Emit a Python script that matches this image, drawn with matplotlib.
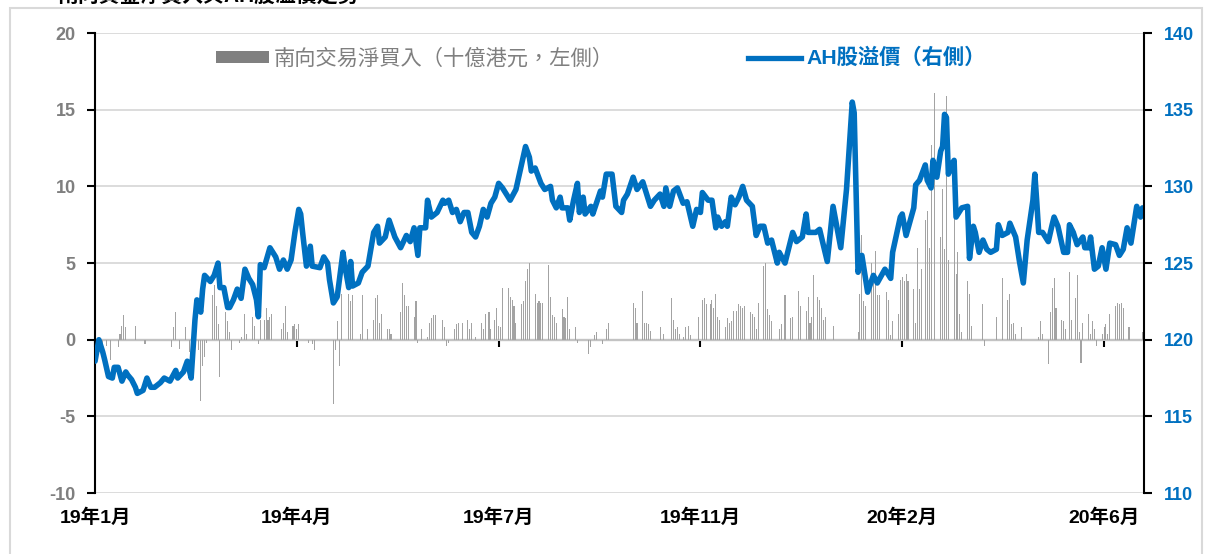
import matplotlib.pyplot as plt
from matplotlib.patches import Patch, Rectangle
from matplotlib.lines import Line2D

# x positions are calendar days counted from 2019-01-01
tick_days = [0, 105, 210, 315, 420, 525]
tick_labels = ['19年1月', '19年4月', '19年7月', '19年11月', '20年2月', '20年6月']

# southbound net buying (HK$ bn, left axis): (day, value)
flow_points = [
    (4, -0.3), (6, -0.4), (8, -1.3), (12, -0.5), (13, 0.4), (14, 0.9), (15, 1.6), (16, 0.8),
    (21, 0.9), (26, -0.3), (40, -0.5), (41, 0.8), (42, 1.8), (44, -0.6), (47, 0.8), (49, -0.8),
    (50, -0.6), (54, -0.7), (55, -4.0), (56, -1.7), (57, -1.1), (58, -0.2), (61, 2.9), (62, 3.6),
    (63, 2.2), (64, 1.0), (65, -2.4), (68, 1.8), (69, 1.2), (70, 0.5), (71, -0.7), (75, -0.2),
    (76, 0.2), (78, 1.7), (79, 0.4), (82, 1.5), (83, 0.9), (85, -0.3), (86, 1.3), (88, 1.3),
    (89, 2.1), (90, 1.3), (91, 1.5), (92, 1.7), (97, 0.7), (98, 1.1), (99, 2.2), (100, 0.5),
    (103, 0.9), (104, 1.0), (105, 0.7), (106, 1.0), (111, -0.2), (113, -0.3), (114, -0.7),
    (124, -4.2), (125, -0.7), (126, 1.2), (127, -1.7), (128, 3.0), (132, 3.0), (133, 2.5),
    (134, 2.9), (138, 0.4), (139, 2.9), (142, 0.7), (145, 1.3), (146, 2.7), (147, 2.9), (148, 1.1),
    (149, 1.7), (152, 0.7), (153, 0.7), (154, 0.4), (159, 1.8), (160, 3.7), (161, 2.9), (162, 2.2),
    (163, 2.2), (166, 1.5), (167, 2.5), (168, -0.2), (170, 0.7), (173, 0.2), (174, 1.1), (175, 1.4),
    (176, 1.6), (177, 1.6), (181, 1.3), (182, 0.8), (183, -0.4), (184, -0.2), (187, 0.7), (188, 1.0),
    (189, 1.1), (191, 1.1), (194, 1.3), (195, 0.7), (196, 1.1), (198, 0.2), (201, 1.1), (202, 0.7),
    (203, 1.7), (205, 1.8), (206, 0.7), (208, 1.3), (209, 2.1), (210, 0.9), (211, 0.8), (212, 3.4),
    (215, 3.4), (216, 2.8), (217, 2.6), (218, 2.2), (219, 1.1), (222, 2.3), (223, 2.5), (224, 3.8),
    (225, 4.6), (226, 5.0), (229, 3.0), (230, 2.4), (231, 2.5), (232, 2.4), (233, 2.4), (236, 4.9),
    (237, 2.8), (238, 1.6), (239, 1.5), (240, 1.1), (243, 2.0), (244, 1.5), (245, 1.4), (246, 2.8),
    (247, 0.7), (250, 0.8), (251, -0.2), (257, -0.9), (258, -0.5), (260, 0.3), (261, 0.5),
    (264, -0.3), (266, 0.7), (267, 1.1), (280, 2.4), (281, 2.1), (282, 1.1), (285, 3.2), (286, 1.1),
    (287, 1.1), (288, 1.0), (289, 0.6), (294, 0.8), (296, 0.4), (300, 2.7), (301, 1.3), (302, 0.7),
    (303, 0.8), (304, 0.4), (306, 0.2), (307, 0.8), (309, 0.9), (310, 0.3), (314, 1.5), (316, 2.6),
    (317, 2.7), (318, 2.3), (320, 2.3), (321, 2.6), (322, 2.1), (323, 3.0), (324, 1.5), (325, 1.3),
    (328, 0.8), (329, 1.4), (330, 1.1), (331, 1.2), (332, 1.9), (334, 1.9), (335, 2.3), (336, 2.2),
    (337, 2.1), (338, 2.2), (341, 1.8), (342, 1.7), (343, 1.5), (344, 0.7), (345, 2.4), (348, 4.8),
    (349, 5.0), (350, 2.0), (351, 1.6), (352, 1.2), (356, 0.7), (357, 1.0), (359, 2.9), (362, 1.4),
    (363, 1.5), (366, 3.2), (367, 2.2), (370, 1.9), (371, 2.8), (372, 1.1), (373, 1.5), (374, 4.2),
    (376, 2.8), (377, 2.6), (378, 2.1), (379, 1.3), (380, 1.5), (384, 0.9), (397, 0.5), (398, 3.0),
    (399, 6.8), (400, 2.5), (401, 2.2), (404, 5.0), (405, 3.7), (406, 5.8), (407, 2.9), (408, 2.9),
    (412, 3.1), (413, 2.6), (414, 0.3), (415, 1.2), (418, 1.7), (419, 3.9), (420, 4.1), (421, 3.8),
    (422, 4.3), (423, 3.8), (426, 3.3), (427, 1.1), (428, 6.0), (429, 3.3), (430, 4.6), (432, 7.8),
    (433, 8.4), (434, 6.0), (435, 12.7), (437, 16.1), (440, 6.7), (441, 9.8), (442, 5.9), (443, 15.9),
    (444, 5.2), (447, 10.0), (448, 4.3), (449, 5.7), (450, 1.7), (451, 0.5), (454, 3.8), (455, 3.0),
    (456, 0.9), (462, 2.3), (463, -0.4), (469, 1.5), (472, 4.0), (475, 2.6), (476, 3.0), (477, 1.0),
    (478, 1.1), (479, 0.4), (482, 0.8), (491, 0.2), (492, 1.2), (493, 0.4), (496, -1.6), (497, 1.8),
    (498, 3.4), (499, 4.0), (500, 2.1), (503, 1.3), (504, 1.2), (505, 0.7), (507, 4.4), (508, 1.3),
    (510, 2.7), (511, 4.2), (512, 0.5), (513, -1.5), (514, 1.1), (517, 1.7), (518, 0.4), (519, 1.2),
    (520, 0.7), (521, -0.4), (524, 0.4), (525, 0.8), (526, 1.0), (527, 0.4), (528, 1.7), (531, 2.2),
    (532, 2.4), (533, 2.3), (534, 2.4), (535, 2.1), (538, 0.8), (545, 0.5),
]

# AH premium index (right axis): (day, value)
ah_points = [
    (0, 118.6), (2, 120.0), (4, 119.2), (5, 118.7), (7, 117.6), (9, 117.5), (10, 118.2), (12, 118.2),
    (14, 117.3), (16, 117.9), (17, 117.7), (19, 117.4), (21, 116.9), (22, 116.5), (25, 116.7),
    (27, 117.5), (29, 116.9), (31, 116.9), (34, 117.2), (36, 117.5), (39, 117.3), (42, 118.0),
    (43, 117.5), (46, 117.9), (48, 118.6), (50, 117.5), (52, 121.3), (53, 122.6), (55, 121.8),
    (56, 123.3), (57, 124.2), (60, 123.8), (62, 124.2), (64, 125.0), (65, 123.4), (67, 123.4),
    (69, 122.1), (70, 122.1), (72, 122.6), (74, 123.3), (76, 122.7), (78, 124.6), (80, 124.0),
    (82, 123.6), (84, 122.6), (85, 121.5), (86, 124.9), (88, 124.7), (91, 126.0), (94, 125.4),
    (96, 124.6), (98, 125.2), (100, 124.6), (102, 125.2), (104, 127.0), (106, 128.5), (107, 128.2),
    (108, 127.0), (110, 124.8), (112, 126.1), (113, 124.8), (117, 124.7), (119, 125.4), (121, 125.0),
    (122, 123.9), (124, 122.4), (126, 122.8), (129, 125.7), (130, 124.8), (132, 123.4), (133, 125.1),
    (134, 123.5), (137, 123.7), (139, 124.4), (142, 124.8), (145, 127.0), (147, 127.4), (148, 126.3),
    (151, 126.7), (153, 127.8), (156, 126.7), (159, 126.0), (162, 126.8), (164, 126.4), (166, 127.3),
    (168, 125.5), (169, 127.3), (172, 127.3), (173, 129.1), (175, 128.0), (178, 128.3), (181, 129.1),
    (182, 128.9), (184, 129.1), (186, 128.3), (188, 128.5), (190, 127.7), (192, 128.3), (194, 128.3),
    (196, 127.0), (198, 126.7), (200, 127.4), (202, 128.5), (204, 128.0), (206, 128.9), (208, 129.3),
    (210, 130.2), (212, 129.9), (216, 129.1), (219, 129.8), (222, 131.5), (224, 132.6), (226, 131.9),
    (227, 131.0), (229, 131.2), (232, 130.2), (234, 129.8), (237, 130.0), (238, 129.1), (240, 128.6),
    (242, 129.3), (243, 128.6), (246, 128.6), (247, 127.8), (249, 129.1), (251, 130.2), (252, 128.3),
    (254, 129.3), (255, 128.2), (258, 128.7), (259, 128.2), (263, 129.7), (264, 129.3), (266, 130.8),
    (269, 130.8), (271, 128.7), (274, 128.3), (275, 129.1), (277, 129.5), (280, 130.6), (282, 129.8),
    (285, 130.3), (289, 128.7), (291, 129.1), (294, 129.5), (296, 128.7), (297, 129.9), (299, 128.7),
    (301, 129.7), (303, 129.9), (306, 128.9), (308, 129.0), (311, 127.4), (313, 128.5), (315, 128.3),
    (316, 129.6), (319, 129.1), (321, 129.1), (323, 127.3), (324, 128.0), (326, 127.4), (328, 127.7),
    (329, 127.4), (331, 129.3), (333, 128.8), (335, 129.3), (337, 130.0), (339, 129.1), (342, 128.7),
    (344, 126.8), (346, 127.4), (348, 127.4), (350, 126.3), (352, 126.5), (355, 125.0), (356, 125.7),
    (359, 125.0), (363, 127.0), (365, 126.4), (368, 126.7), (370, 128.2), (371, 127.0), (375, 127.0),
    (377, 127.2), (381, 125.1), (384, 128.7), (388, 126.0), (391, 129.8), (394, 135.5), (395, 134.8),
    (397, 124.4), (399, 125.5), (402, 123.1), (405, 124.2), (407, 123.7), (411, 124.6), (414, 124.0),
    (415, 125.7), (419, 128.0), (420, 128.2), (422, 126.8), (426, 128.6), (427, 130.1), (429, 130.4),
    (432, 131.4), (433, 130.4), (435, 129.9), (436, 131.7), (438, 130.6), (440, 132.3), (441, 132.6),
    (442, 134.7), (443, 134.5), (444, 130.8), (446, 131.5), (447, 131.7), (448, 128.0), (451, 128.6),
    (454, 128.7), (455, 125.3), (457, 127.4), (458, 127.0), (460, 125.7), (462, 126.5), (464, 125.9),
    (466, 125.7), (469, 125.9), (470, 127.5), (472, 126.8), (475, 127.0), (476, 127.6), (479, 126.7),
    (481, 125.1), (483, 123.7), (485, 126.5), (488, 129.1), (489, 130.8), (490, 129.0), (491, 127.0),
    (493, 127.0), (496, 126.4), (498, 127.5), (499, 128.0), (501, 127.4), (504, 125.7), (506, 125.7),
    (507, 127.5), (509, 127.0), (511, 126.2), (514, 126.7), (515, 126.0), (517, 126.0), (518, 126.7),
    (520, 124.6), (522, 124.8), (524, 126.0), (526, 124.6), (528, 126.3), (531, 126.2), (533, 125.5),
    (535, 125.9), (537, 127.3), (539, 126.3), (542, 128.7), (544, 128.0), (545, 128.6),
]

legend_labels = ['南向交易淨買入（十億港元，左側）', 'AH股溢價（右側）']
title_text = '南向資金淨買入與AH股溢價走勢'

BLUE = '#0070c0'
GRAY_TXT = '#7f7f7f'

plt.rcParams['font.family'] = ['Liberation Sans', 'Noto Sans CJK TC']
plt.rcParams['axes.unicode_minus'] = False

flow_day, flow_val = zip(*flow_points)
ah_day, ah_val = zip(*ah_points)

fig = plt.figure(figsize=(12.06, 5.54), dpi=100)
ax = fig.add_axes([0.0788, 0.110, 0.8698, 0.8303])

# bars on the left axis
ax.bar(flow_day, flow_val, width=0.55, color='#a3a3a3', linewidth=0, zorder=2)
ax.set_xlim(0, 545.8)
ax.set_ylim(-10, 20)
ax.set_yticks(range(-10, 21, 5))
ax.grid(axis='y', color='#d9d9d9', linewidth=1.3)
ax.set_axisbelow(True)
ax.set_xticks(tick_days, tick_labels)
ax.tick_params(axis='x', length=0, pad=11, labelsize=14, labelcolor='black')
ax.tick_params(axis='y', direction='out', length=6, width=1.5, pad=8,
               labelsize=13, labelcolor=GRAY_TXT)
for lab in ax.get_xticklabels() + ax.get_yticklabels():
    lab.set_fontweight('bold')
for s in ['top', 'bottom', 'right']:
    ax.spines[s].set_visible(False)
ax.spines['left'].set_linewidth(1.5)

# horizontal axis line at zero with tick marks
sec = ax.secondary_xaxis(1 / 3)
sec.set_xticks(tick_days)
sec.tick_params(axis='x', length=5, width=1.5, labelbottom=False, labeltop=False)
sec.spines['bottom'].set_linewidth(1.5)

# AH premium on right axis
ax2 = ax.twinx()
ax2.plot(ah_day, ah_val, color=BLUE, linewidth=4.0,
         solid_joinstyle='round', solid_capstyle='round')
ax2.set_ylim(110, 140)
ax2.set_yticks(range(110, 141, 5))
ax2.tick_params(axis='y', direction='out', length=6, width=1.5, pad=8,
                labelsize=13, labelcolor=BLUE)
for lab in ax2.get_yticklabels():
    lab.set_fontweight('bold')
for s in ['top', 'bottom', 'left']:
    ax2.spines[s].set_visible(False)
ax2.spines['right'].set_linewidth(1.5)

handles = [Patch(facecolor='#808080', edgecolor='none'),
           Line2D([], [], color=BLUE, linewidth=3.8)]
leg = ax2.legend(handles, legend_labels, loc='center', bbox_to_anchor=(0.482, 0.9457),
                 ncol=2, frameon=False, fontsize=15.3, handlelength=2.5, handleheight=0.5,
                 handletextpad=0.25, columnspacing=6.3)
leg.get_texts()[0].set_color(GRAY_TXT)
leg.get_texts()[1].set_color(BLUE)
leg.get_texts()[1].set_fontweight('bold')

# clipped heading at the very top and the frame around the chart
fig.text(0.048, 1.008, title_text, fontsize=15, fontweight='bold', va='center', ha='left')
fig.patches.append(Rectangle((0.0083, -0.02), 0.9884, 1.0056, transform=fig.transFigure,
                             fill=False, edgecolor='#d9d9d9', linewidth=1.5))

fig.savefig('out.png', dpi=100)
